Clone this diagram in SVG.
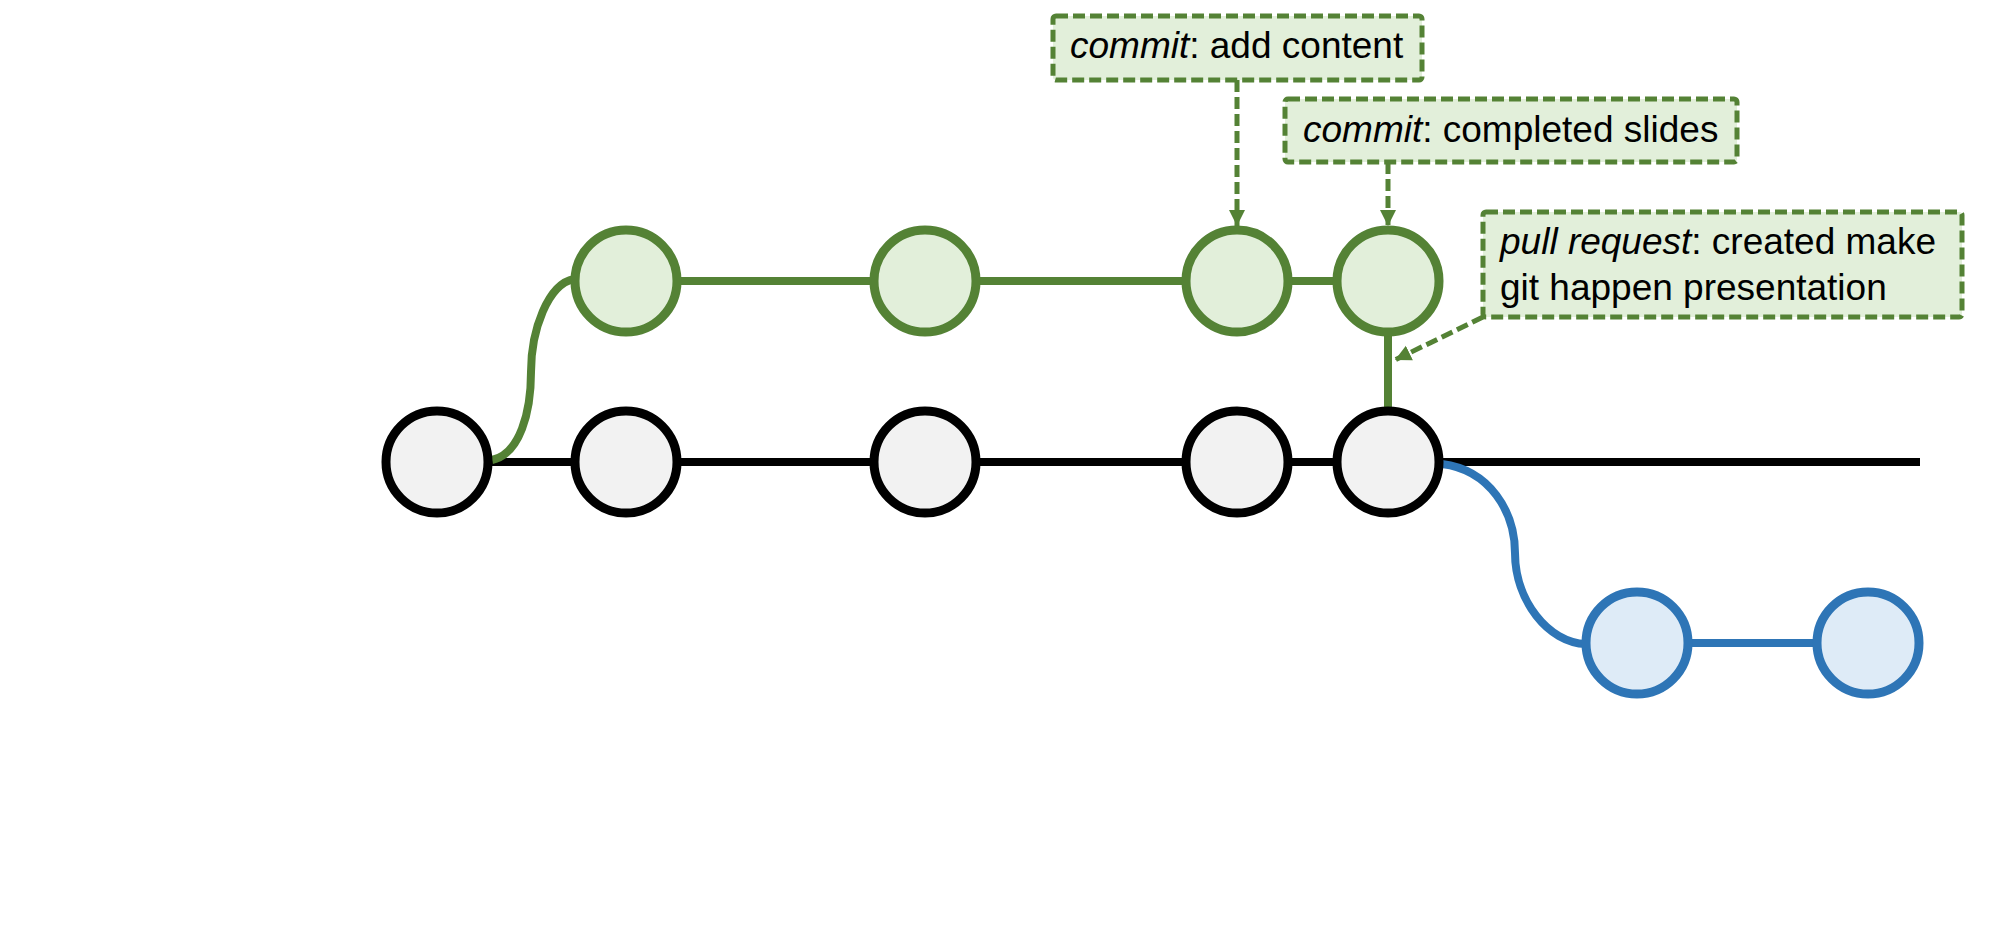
<svg xmlns="http://www.w3.org/2000/svg" width="1994" height="925" viewBox="0 0 1994 925">
  <defs>
    <marker id="tip" markerUnits="userSpaceOnUse" markerWidth="18" markerHeight="18" viewBox="0 0 18 18" refX="16" refY="9" orient="auto">
      <path d="M0,1 L16,9 L0,17 Z" fill="#548235"/>
    </marker>
    <style>
      .main { fill: #F2F2F2; stroke: #000000; stroke-width: 9; }
      .feat { fill: #E2EFDA; stroke: #548235; stroke-width: 9; }
      .fix  { fill: #DEEBF7; stroke: #2E75B6; stroke-width: 9; }
      .trunk { fill: none; stroke: #000000; stroke-width: 8; }
      .gline { fill: none; stroke: #548235; stroke-width: 8; }
      .bline { fill: none; stroke: #2E75B6; stroke-width: 8; }
      .note { fill: #E2EFDA; stroke: #548235; stroke-width: 5; stroke-dasharray: 12 5; }
      .ptr { fill: none; stroke: #548235; stroke-width: 5; stroke-dasharray: 12 5; marker-end: url(#tip); }
      .lbl { font-family: "Liberation Sans", Arial, sans-serif; font-size: 37px; fill: #000000; }
      .lbl .em { font-style: italic; }
    </style>
  </defs>

  <!-- branch lines -->
  <g id="connectors">
    <line class="trunk" x1="437" y1="462" x2="1920" y2="462"/>
    <line class="gline" x1="626" y1="281" x2="1388" y2="281"/>
    <line class="gline" x1="1388" y1="281" x2="1388" y2="462"/>
    <path class="gline" d="M492,460 C520,454 531,412 531,372 C531,330 548,284 574,279"/>
    <path class="bline" d="M1442,464 C1490,470 1515,512 1515,553 C1515,600 1548,643 1586,644"/>
    <line class="bline" x1="1637" y1="643" x2="1868" y2="643"/>
    <line class="ptr" x1="1237" y1="80" x2="1237" y2="226"/>
    <line class="ptr" x1="1388" y1="162" x2="1388" y2="226"/>
    <line class="ptr" x1="1483" y1="317" x2="1395" y2="360"/>
  </g>

  <!-- main branch commits -->
  <g id="m1"><circle class="main" cx="437" cy="462" r="51"/></g>
  <g id="m2"><circle class="main" cx="626" cy="462" r="51"/></g>
  <g id="m3"><circle class="main" cx="925" cy="462" r="51"/></g>
  <g id="m4"><circle class="main" cx="1237" cy="462" r="51"/></g>
  <g id="m5"><circle class="main" cx="1388" cy="462" r="51"/></g>

  <!-- feature branch commits -->
  <g id="f1"><circle class="feat" cx="626" cy="281" r="51"/></g>
  <g id="f2"><circle class="feat" cx="925" cy="281" r="51"/></g>
  <g id="f3"><circle class="feat" cx="1237" cy="281" r="51"/></g>
  <g id="f4"><circle class="feat" cx="1388" cy="281" r="51"/></g>

  <!-- second branch commits -->
  <g id="b1"><circle class="fix" cx="1637" cy="643" r="51"/></g>
  <g id="b2"><circle class="fix" cx="1868" cy="643" r="51"/></g>

  <!-- annotations -->
  <g id="note-add-content">
    <rect class="note" x="1053" y="16" width="369" height="64" rx="3"/>
    <text class="lbl" x="1070" y="58"><tspan class="em">commit</tspan>: add content</text>
  </g>
  <g id="note-completed-slides">
    <rect class="note" x="1285" y="99" width="452" height="63" rx="3"/>
    <text class="lbl" x="1303" y="142"><tspan class="em">commit</tspan>: completed slides</text>
  </g>
  <g id="note-pull-request">
    <rect class="note" x="1483" y="212" width="479" height="105" rx="3"/>
    <text class="lbl" x="1500" y="254"><tspan class="em">pull request</tspan>: created make</text>
    <text class="lbl" x="1500" y="300">git happen presentation</text>
  </g>
</svg>
